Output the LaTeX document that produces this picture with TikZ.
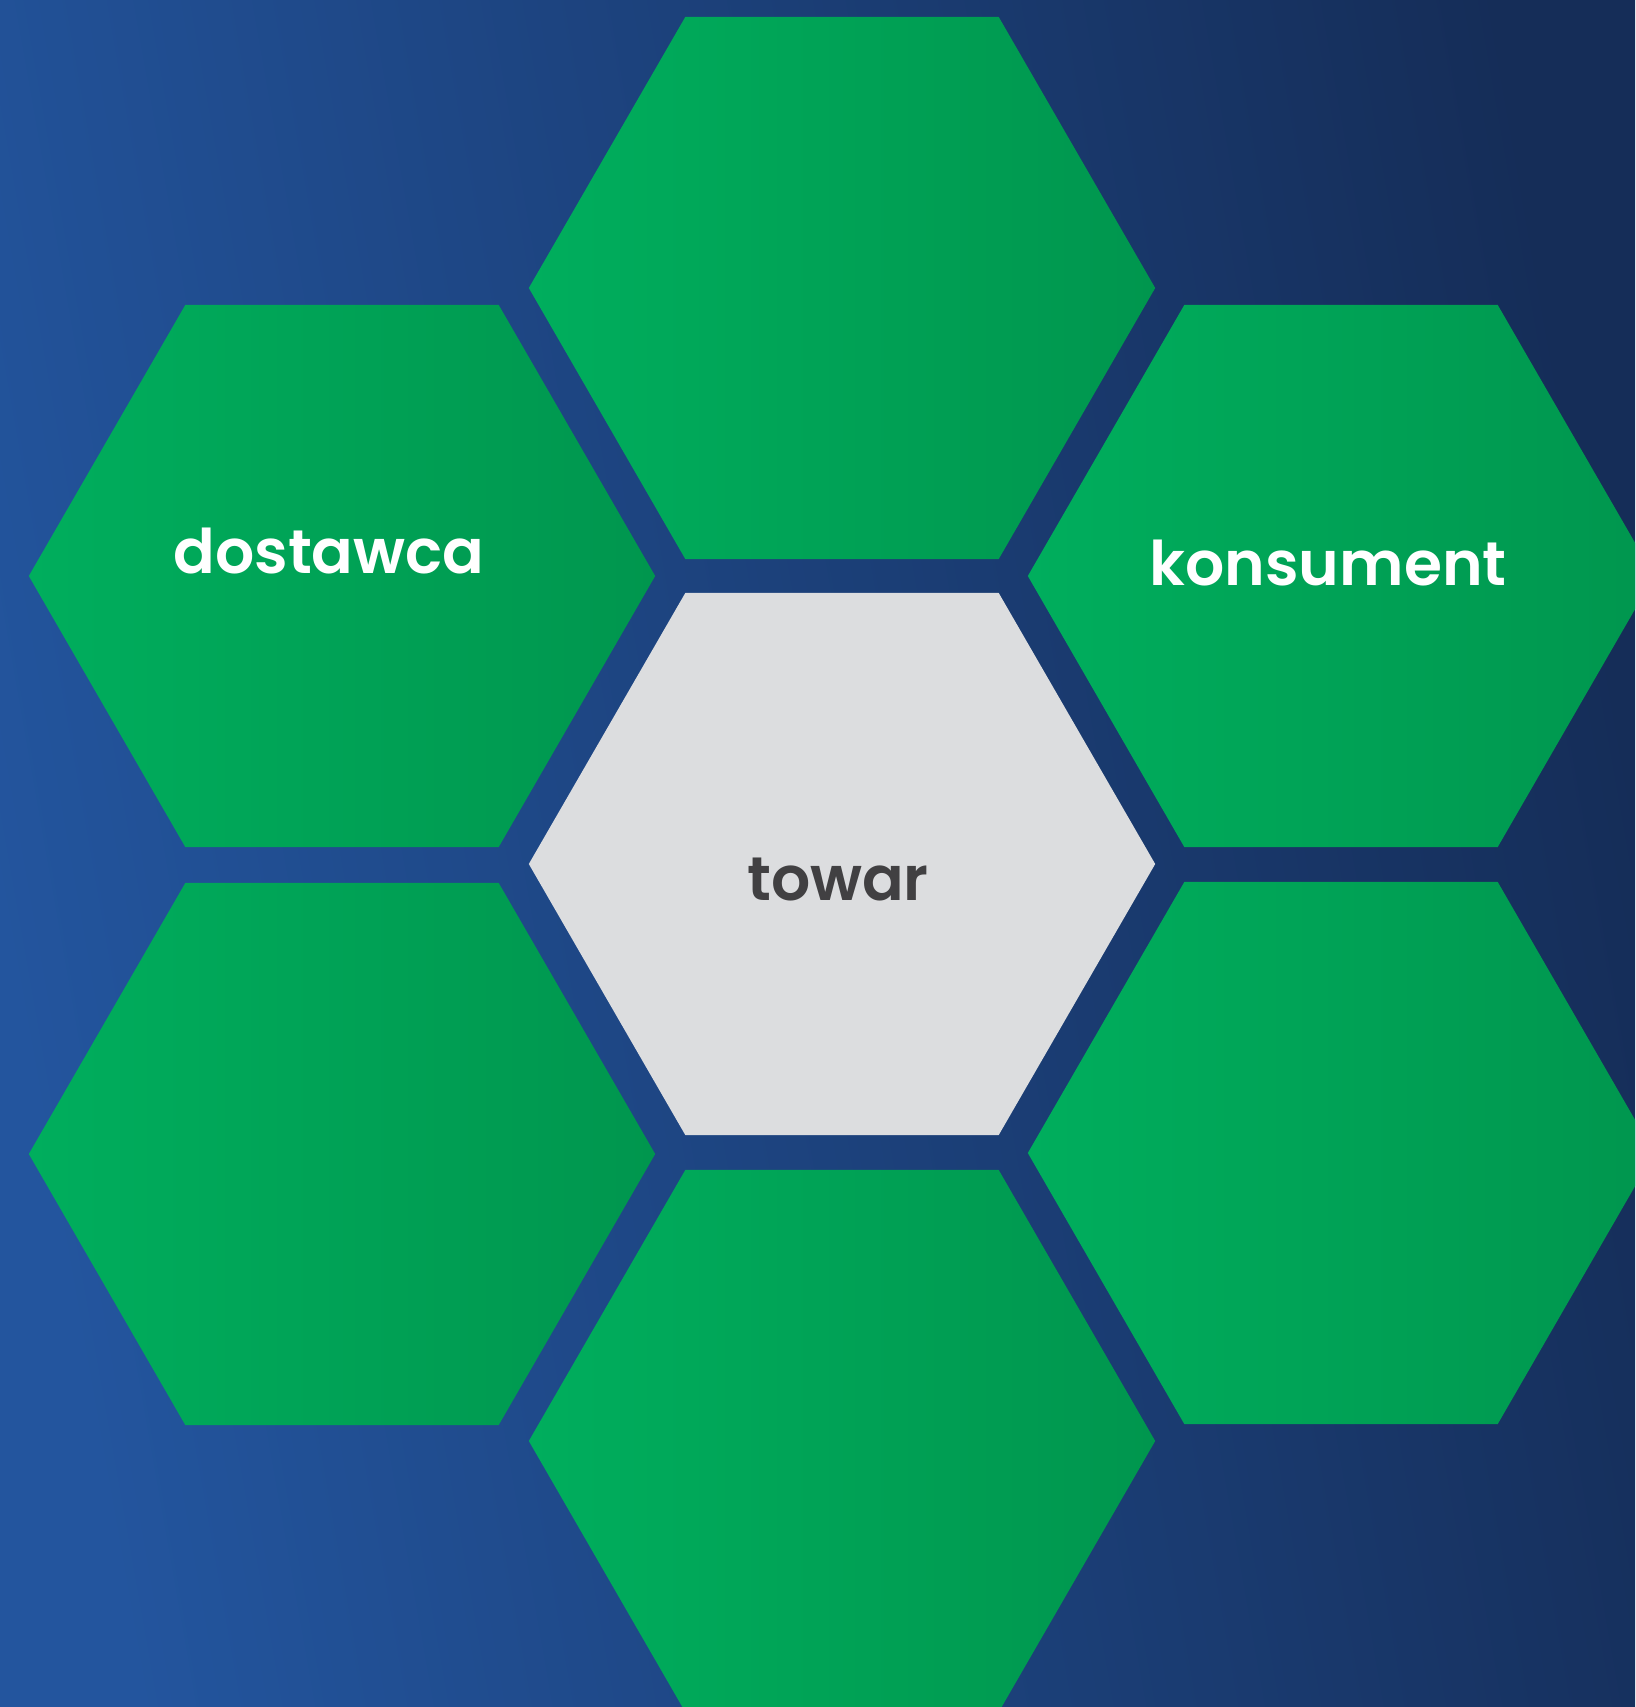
\documentclass[tikz,border=0pt]{standalone}
\usepackage{fontspec}
\setmainfont{Poppins}
\newfontfamily\hexfont{Poppins SemiBold}
\usetikzlibrary{shapes.geometric}
\definecolor{bgleft}{HTML}{23559E}
\definecolor{bgright}{HTML}{152D58}
\definecolor{hexleft}{HTML}{00AE5D}
\definecolor{hexright}{HTML}{00964E}
\definecolor{hexgray}{HTML}{DCDDDF}
\definecolor{txtgray}{HTML}{414042}
\begin{document}
\begin{tikzpicture}[x=0.01cm, y=-0.01cm]
\tikzset{
  hex/.style={regular polygon, regular polygon sides=6, minimum size=6.26cm, inner sep=0pt, draw=none},
  greenhex/.style={hex, left color=hexleft, right color=hexright},
  grayhex/.style={hex, fill=hexgray},
  hextext/.style={font=\hexfont\fontsize{17.5}{21}\selectfont, anchor=base, inner sep=0pt}
}
\useasboundingbox (0, 0) rectangle (1635, 1707);
\clip (0, 0) rectangle (1635, 1707);

\shade [left color=bgleft, right color=bgright, shading angle=100] (0, 0) rectangle (1635, 1707); % tlo

% plaster miodu
\node [greenhex] (gora) at (842, 288) {};
\node [greenhex] (dostawca) at (342, 576) {};
\node [greenhex] (konsument) at (1341, 576) {};
\node [grayhex] (towar) at (842, 864) {};
\node [greenhex] (lewydol) at (342, 1154) {};
\node [greenhex] (prawydol) at (1341, 1153) {};
\node [greenhex] (dol) at (842, 1441) {};

% napisy
\node [hextext, text=white] (dostawcatxt) at (329, 574) {dostawca};
\node [hextext, text=white] (konsumenttxt) at (1328, 586) {konsument};
\node [hextext, text=txtgray] (towartxt) at (838, 900) {towar};

\end{tikzpicture}
\end{document}
